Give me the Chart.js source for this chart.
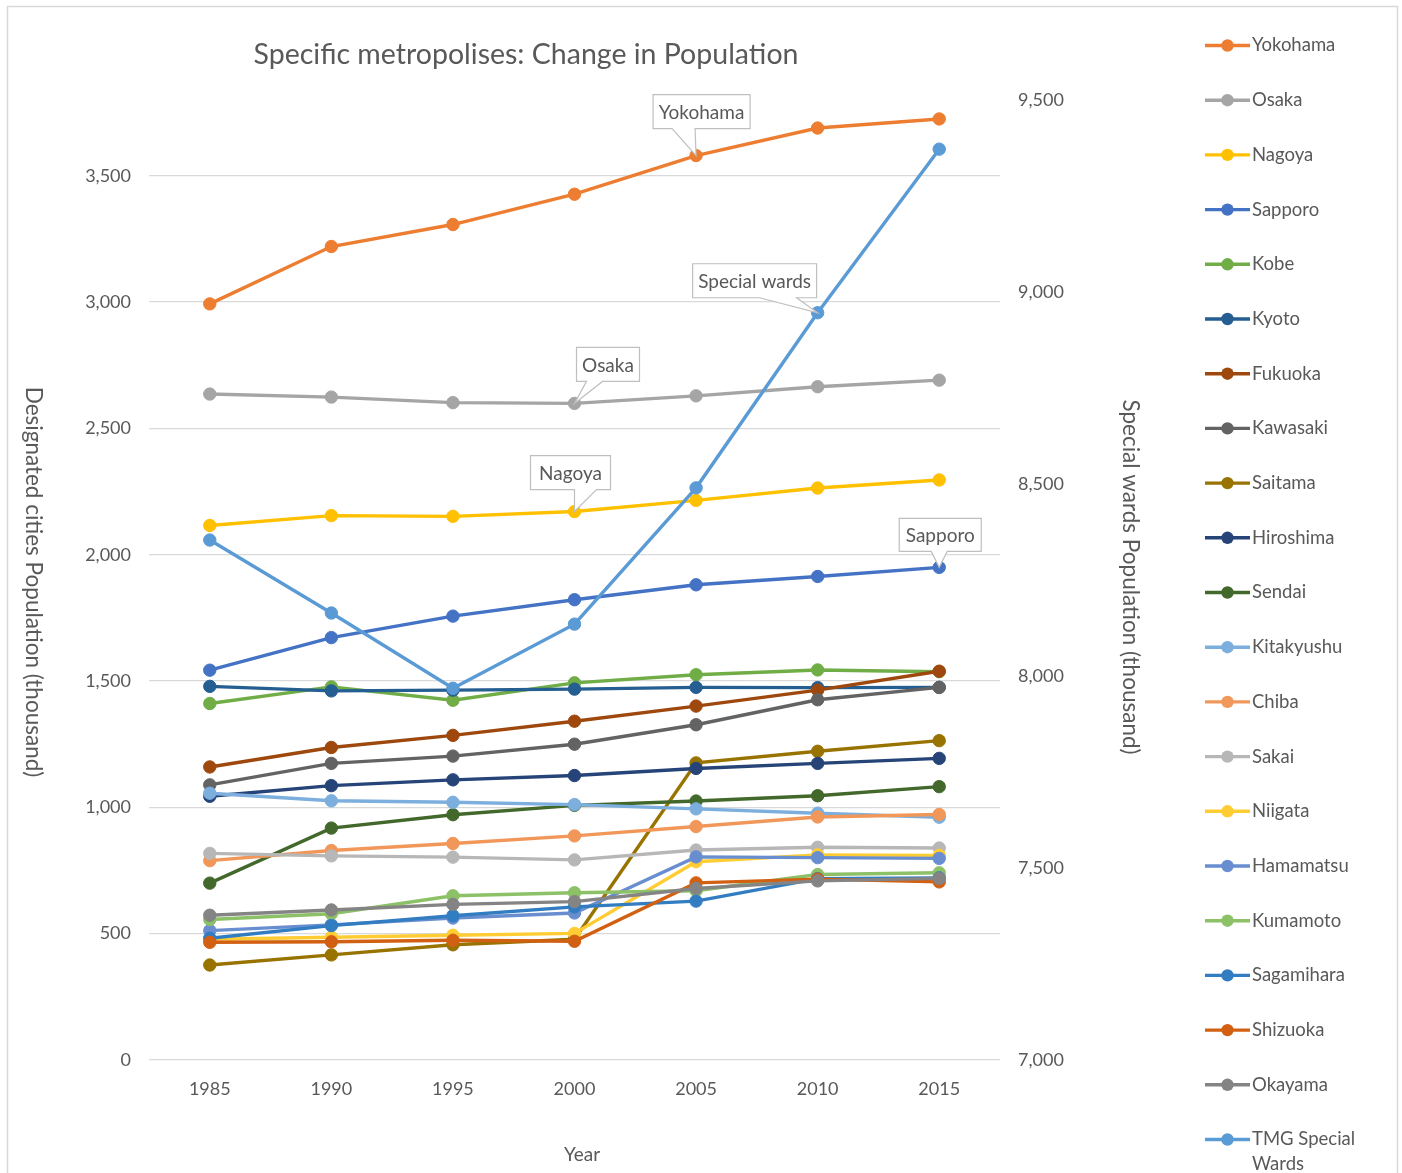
<!DOCTYPE html>
<html>
<head>
<meta charset="utf-8">
<title>Specific metropolises: Change in Population</title>
<script src="https://cdn.jsdelivr.net/npm/chart.js@4.4.1/dist/chart.umd.min.js"></script>
<style>
  html, body { margin: 0; padding: 0; background: #ffffff; }
  canvas { display: block; }
</style>
</head>
<body>
<canvas id="chart" width="1402" height="1173"></canvas>
<script>
// Census years
const years = ['1985', '1990', '1995', '2000', '2005', '2010', '2015'];

// Designated cities, population in thousands (left axis)
const yokohama   = [2993, 3220, 3307, 3427, 3580, 3689, 3725];
const osaka      = [2636, 2624, 2602, 2599, 2629, 2665, 2691];
const nagoya     = [2116, 2155, 2152, 2171, 2215, 2264, 2296];
const sapporo    = [1543, 1672, 1757, 1822, 1881, 1914, 1950];
const kobe       = [1411, 1477, 1424, 1493, 1525, 1544, 1537];
const kyoto      = [1479, 1461, 1464, 1468, 1475, 1474, 1475];
const fukuoka    = [1160, 1237, 1285, 1341, 1401, 1464, 1539];
const kawasaki   = [1089, 1174, 1203, 1250, 1327, 1426, 1475];
const saitama    = [376, 416, 456, 478, 1176, 1222, 1264];
const hiroshima  = [1044, 1086, 1109, 1126, 1154, 1174, 1194];
const sendai     = [700, 918, 971, 1008, 1025, 1046, 1082];
const kitakyushu = [1056, 1026, 1020, 1011, 994, 977, 961];
const chiba      = [789, 829, 857, 887, 924, 962, 972];
const sakai      = [818, 808, 803, 792, 831, 842, 839];
const niigata    = [478, 486, 494, 501, 785, 812, 810];
const hamamatsu  = [512, 535, 562, 582, 804, 801, 798];
const kumamoto   = [556, 579, 650, 662, 670, 734, 741];
const sagamihara = [482, 532, 571, 606, 629, 718, 721];
const shizuoka   = [466, 468, 474, 470, 701, 716, 705];
const okayama    = [573, 594, 616, 627, 679, 709, 719];

// Tokyo special wards, population in thousands (right axis)
const tmgSpecialWards = [8354, 8164, 7968, 8135, 8490, 8946, 9372];

// Series names, in legend order
const seriesNames = ['Yokohama', 'Osaka', 'Nagoya', 'Sapporo', 'Kobe', 'Kyoto', 'Fukuoka',
  'Kawasaki', 'Saitama', 'Hiroshima', 'Sendai', 'Kitakyushu', 'Chiba', 'Sakai', 'Niigata',
  'Hamamatsu', 'Kumamoto', 'Sagamihara', 'Shizuoka', 'Okayama', 'TMG Special Wards'];
const seriesValues = [yokohama, osaka, nagoya, sapporo, kobe, kyoto, fukuoka, kawasaki,
  saitama, hiroshima, sendai, kitakyushu, chiba, sakai, niigata, hamamatsu, kumamoto,
  sagamihara, shizuoka, okayama, tmgSpecialWards];

// Axis ticks (thousand)
const leftTicks = [0, 500, 1000, 1500, 2000, 2500, 3000, 3500];
const rightTicks = [7000, 7500, 8000, 8500, 9000, 9500];

// Data callouts: series, year, text
const calloutSeries = ['Yokohama', 'TMG Special Wards', 'Osaka', 'Nagoya', 'Sapporo'];
const calloutYears  = ['2005', '2010', '2000', '2000', '2015'];
const calloutTexts  = ['Yokohama', 'Special wards', 'Osaka', 'Nagoya', 'Sapporo'];

const palette = ['#ED7D31', '#A5A5A5', '#FFC000', '#4472C4', '#70AD47', '#255E91', '#9E480E',
  '#636363', '#997300', '#264478', '#43682B', '#7CAFDD', '#F1975A', '#B7B7B7', '#FFCD33',
  '#698ED0', '#8CC168', '#327DC2', '#D26012', '#848484', '#5B9BD5'];

const FONT = 'Lato, "Open Sans", sans-serif';
const TEXT = '#595959';

const datasets = seriesNames.map((name, i) => ({
  label: name,
  data: seriesValues[i],
  yAxisID: name === 'TMG Special Wards' ? 'y2' : 'y',
  borderColor: palette[i],
  backgroundColor: palette[i],
  pointBackgroundColor: palette[i],
  pointBorderColor: palette[i],
  borderWidth: 3.4,
  pointRadius: 6.2,
  pointBorderWidth: 1,
  tension: 0,
  fill: false,
  order: seriesNames.length - i
}));

// Callout boxes: offsets of box and tail base relative to the target point
const calloutGeometry = {
  'Yokohama':      { x0: -43, x1: 54,  y0: -61, y1: -27, t0: -24, t1: -1 },
  'Special wards': { x0: -125, x1: -1, y0: -49, y1: -15, t0: -58, t1: -21 },
  'Osaka':         { x0: 2,   x1: 65,  y0: -56, y1: -22, t0: 12,  t1: 28 },
  'Nagoya':        { x0: -44, x1: 36,  y0: -56, y1: -22, t0: 0,   t1: 22 },
  'Sapporo':       { x0: -40, x1: 42,  y0: -49, y1: -16, t0: -8,  t1: 8 }
};

const decorPlugin = {
  id: 'decor',
  beforeDraw(chart) {
    const ctx = chart.ctx;
    ctx.save();
    ctx.fillStyle = '#ffffff';
    ctx.fillRect(0, 0, chart.width, chart.height);
    ctx.strokeStyle = '#d9d9d9';
    ctx.lineWidth = 1.5;
    ctx.strokeRect(7.5, 6.5, 1390, 1200);
    ctx.restore();
  },
  afterDatasetsDraw(chart) {
    const ctx = chart.ctx;
    ctx.save();
    ctx.font = '19px ' + FONT;
    ctx.textAlign = 'center';
    ctx.textBaseline = 'middle';
    calloutSeries.forEach((s, k) => {
      const di = seriesNames.indexOf(s);
      const pi = years.indexOf(calloutYears[k]);
      const pt = chart.getDatasetMeta(di).data[pi];
      const g = calloutGeometry[calloutTexts[k]];
      const px = pt.x, py = pt.y;
      const l = px + g.x0, r = px + g.x1, t = py + g.y0, b = py + g.y1;
      ctx.beginPath();
      ctx.moveTo(l, t);
      ctx.lineTo(r, t);
      ctx.lineTo(r, b);
      ctx.lineTo(px + g.t1, b);
      ctx.lineTo(px, py);
      ctx.lineTo(px + g.t0, b);
      ctx.lineTo(l, b);
      ctx.closePath();
      ctx.fillStyle = '#ffffff';
      ctx.fill();
      ctx.strokeStyle = '#bfbfbf';
      ctx.lineWidth = 1.2;
      ctx.stroke();
      ctx.fillStyle = TEXT;
      ctx.fillText(calloutTexts[k], (l + r) / 2, (t + b) / 2 + 1);
    });
    ctx.restore();
  },
  afterDraw(chart) {
    const ctx = chart.ctx;
    ctx.save();
    ctx.fillStyle = TEXT;

    // Title
    ctx.font = '28.5px ' + FONT;
    ctx.textAlign = 'center';
    ctx.textBaseline = 'middle';
    ctx.fillText('Specific metropolises: Change in Population', 526, 55);

    // Axis titles
    ctx.font = '19px ' + FONT;
    ctx.fillText('Year', 582, 1155);
    ctx.font = '22.5px ' + FONT;
    ctx.save();
    ctx.translate(33, 582);
    ctx.rotate(Math.PI / 2);
    ctx.fillText('Designated cities Population (thousand)', 0, 0);
    ctx.restore();
    ctx.save();
    ctx.translate(1130, 577);
    ctx.rotate(Math.PI / 2);
    ctx.fillText('Special wards Population (thousand)', 0, 0);
    ctx.restore();

    // Legend
    ctx.font = '18.5px ' + FONT;
    ctx.textAlign = 'left';
    chart.data.datasets.forEach((ds, i) => {
      const y = 45.5 + i * 54.7;
      ctx.strokeStyle = ds.borderColor;
      ctx.lineWidth = 3.4;
      ctx.beginPath();
      ctx.moveTo(1205, y);
      ctx.lineTo(1250, y);
      ctx.stroke();
      ctx.fillStyle = ds.borderColor;
      ctx.beginPath();
      ctx.arc(1227.5, y, 6.2, 0, Math.PI * 2);
      ctx.fill();
      ctx.fillStyle = TEXT;
      if (ds.label === 'TMG Special Wards') {
        ctx.fillText('TMG Special', 1252, y);
        ctx.fillText('Wards', 1252, y + 25);
      } else {
        ctx.fillText(ds.label, 1252, y);
      }
    });
    ctx.restore();
  }
};

new Chart(document.getElementById('chart'), {
  type: 'line',
  data: { labels: years, datasets: datasets },
  plugins: [decorPlugin],
  options: {
    responsive: false,
    animation: false,
    events: [],
    layout: { padding: { top: 100, right: 302, left: 0, bottom: 0 } },
    plugins: {
      legend: { display: false },
      tooltip: { enabled: false },
      title: { display: false }
    },
    scales: {
      x: {
        type: 'category',
        offset: true,
        grid: { display: false, drawTicks: false },
        border: { display: false },
        ticks: { color: TEXT, font: { family: FONT, size: 18 }, padding: 18, maxRotation: 0 },
        afterFit(scale) { scale.height = 113; }
      },
      y: {
        position: 'left',
        min: 0,
        max: 3800,
        grid: { color: '#d9d9d9', lineWidth: 1.3, drawTicks: false },
        border: { display: false },
        ticks: {
          color: TEXT,
          font: { family: FONT, size: 18 },
          padding: 18,
          callback: (v) => v.toLocaleString('en-US')
        },
        afterBuildTicks(scale) { scale.ticks = leftTicks.map(v => ({ value: v })); },
        afterFit(scale) { scale.width = 149; }
      },
      y2: {
        position: 'right',
        min: 7000,
        max: 9500,
        grid: { display: false, drawTicks: false },
        border: { display: false },
        ticks: {
          color: TEXT,
          font: { family: FONT, size: 18 },
          padding: 18,
          callback: (v) => v.toLocaleString('en-US')
        },
        afterBuildTicks(scale) { scale.ticks = rightTicks.map(v => ({ value: v })); },
        afterFit(scale) { scale.width = 100; }
      }
    }
  }
});
</script>
</body>
</html>
